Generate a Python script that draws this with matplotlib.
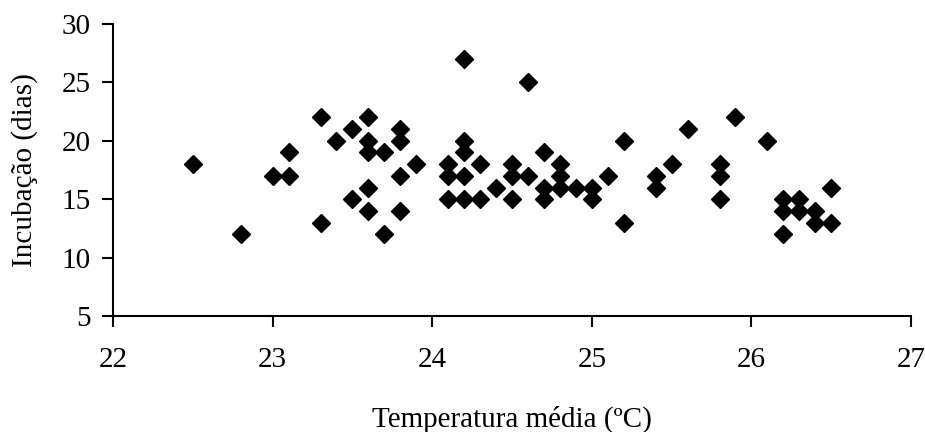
import matplotlib.pyplot as plt

# temperatura media (C) e incubacao (dias)
temperatura = [22.5, 22.8, 23.0, 23.1, 23.1, 23.3, 23.3, 23.4, 23.5, 23.5,
               23.6, 23.6, 23.6, 23.6, 23.6, 23.7, 23.7, 23.8, 23.8, 23.8,
               23.8, 23.9, 24.1, 24.1, 24.1, 24.2, 24.2, 24.2, 24.2, 24.2,
               24.3, 24.3, 24.4, 24.5, 24.5, 24.5, 24.6, 24.6, 24.7, 24.7,
               24.7, 24.8, 24.8, 24.8, 24.9, 25.0, 25.0, 25.1, 25.2, 25.2,
               25.4, 25.4, 25.5, 25.6, 25.8, 25.8, 25.8, 25.9, 26.1, 26.2,
               26.2, 26.2, 26.3, 26.3, 26.4, 26.4, 26.5, 26.5]
incubacao = [18, 12, 17, 17, 19, 22, 13, 20, 21, 15,
             22, 20, 19, 16, 14, 19, 12, 21, 20, 17,
             14, 18, 18, 17, 15, 27, 20, 19, 17, 15,
             18, 15, 16, 18, 17, 15, 25, 17, 19, 16,
             15, 18, 17, 16, 16, 16, 15, 17, 20, 13,
             17, 16, 18, 21, 18, 17, 15, 22, 20, 15,
             14, 12, 15, 14, 14, 13, 16, 13]

xticks = [22, 23, 24, 25, 26, 27]
yticks = [5, 10, 15, 20, 25, 30]

plt.rcParams['font.family'] = ['Liberation Serif', 'DejaVu Serif']

fig = plt.figure(figsize=(9.25, 4.32), dpi=100)
ax = fig.add_axes([0.1222, 0.2685, 0.8627, 0.6759])

ax.plot(temperatura, incubacao, linestyle='None', marker='D',
        markersize=9, color='black')

ax.set_xlim(22, 27)
ax.set_ylim(5, 30)
ax.set_xticks(xticks)
ax.set_yticks(yticks)

for side in ['top', 'right']:
    ax.spines[side].set_visible(False)
for side in ['left', 'bottom']:
    ax.spines[side].set_linewidth(1.5)

ax.tick_params(axis='both', direction='out', length=8, width=1.5,
               labelsize=21)
ax.tick_params(axis='x', pad=14)
ax.tick_params(axis='y', pad=8)

ax.set_xlabel('Temperatura média (ºC)', fontsize=21, labelpad=24)
ax.set_ylabel('Incubação (dias)', fontsize=21)
ax.yaxis.set_label_coords(-0.094, 0.5)

fig.savefig('out.png', dpi=100)
